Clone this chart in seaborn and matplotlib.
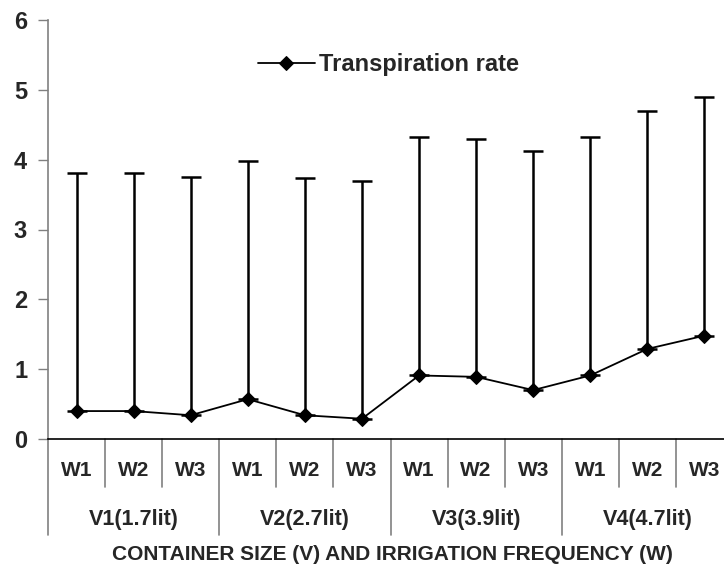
import matplotlib
matplotlib.use("Agg")
import matplotlib.pyplot as plt
import matplotlib.transforms as mtransforms
import seaborn as sns
import pandas as pd
import numpy as np

# ---- data ----
containers = ["V1(1.7lit)", "V2(2.7lit)", "V3(3.9lit)", "V4(4.7lit)"]
irrigations = ["W1", "W2", "W3"]
transpiration = [0.40, 0.40, 0.34, 0.57, 0.34, 0.29, 0.91, 0.89, 0.70, 0.91, 1.29, 1.48]
upper_err = [3.41, 3.41, 3.41, 3.41, 3.40, 3.40, 3.41, 3.40, 3.43, 3.41, 3.40, 3.42]
yticks = [0, 1, 2, 3, 4, 5, 6]
series_name = "Transpiration rate"
xlabel = "CONTAINER SIZE (V) AND IRRIGATION FREQUENCY (W)"

cats = [f"{v}-{w}" for v in containers for w in irrigations]
df = pd.DataFrame({"cat": cats, "val": transpiration})

sns.set_theme(style="white")
plt.rcParams["font.family"] = ["Liberation Sans", "DejaVu Sans"]
plt.rcParams["font.weight"] = "bold"

W, H = 724, 574
fig = plt.figure(figsize=(W / 100, H / 100), dpi=100)
left, right_px, top, bottom = 48, 733, 20, 439
ax = fig.add_axes([left / W, (H - bottom) / H, (right_px - left) / W, (bottom - top) / H])

sns.lineplot(data=df, x="cat", y="val", ax=ax, color="black", linewidth=1.3,
             marker="D", markersize=7, markeredgecolor="black", label=series_name,
             sort=False)
xpos = np.arange(len(cats))
ax.errorbar(xpos, transpiration, yerr=[np.zeros(len(cats)), upper_err], fmt="none",
            ecolor="black", elinewidth=1.8, capsize=7.5, capthick=1.8, zorder=1)

ax.set_xlim(-0.5, len(cats) - 0.5)
ax.set_ylim(0, 6)
ax.set_yticks(yticks)
ax.set_yticklabels([str(t) for t in yticks], fontsize=17, fontweight="bold")
ax.tick_params(axis="y", which="major", left=True, length=7, width=1, color="#808080",
               pad=8, direction="out")
ax.tick_params(axis="x", bottom=False, labelbottom=False)
ax.set_xlabel("")
ax.set_ylabel("")
for s in ["top", "right"]:
    ax.spines[s].set_visible(False)
ax.spines["left"].set_color("#808080")
ax.spines["left"].set_linewidth(1.2)
ax.spines["bottom"].set_color("black")
ax.spines["bottom"].set_linewidth(1.2)

trans = mtransforms.blended_transform_factory(ax.transData, ax.transAxes)
h_ax = bottom - top
short_y = -(487 - bottom) / h_ax
long_y = -(535 - bottom) / h_ax
for i in range(len(cats) + 1):
    b = i - 0.5
    yend = long_y if i % 3 == 0 else short_y
    ax.plot([b, b], [0, yend], transform=trans, color="#808080", linewidth=1.2,
            clip_on=False)

w_y = -(471 - bottom) / h_ax
v_y = -(520 - bottom) / h_ax
for i, c in enumerate(cats):
    ax.text(i, w_y, irrigations[i % 3], transform=trans, ha="center", va="center",
            fontsize=15, fontweight="bold")
for j, v in enumerate(containers):
    ax.text(j * 3 + 1, v_y, v, transform=trans, ha="center", va="center",
            fontsize=15.5, fontweight="bold")

fig.text(392 / W, 1 - 555 / H, xlabel, ha="center", va="center", fontsize=15,
         fontweight="bold")

leg = ax.legend(loc="center left", bbox_to_anchor=(258 / W, 1 - 65 / H),
                bbox_transform=fig.transFigure, frameon=False, fontsize=17,
                handlelength=2.4, handletextpad=0.2, borderpad=0, borderaxespad=0)
for t in leg.get_texts():
    t.set_fontweight("bold")

fig.savefig("out.png", dpi=100)
